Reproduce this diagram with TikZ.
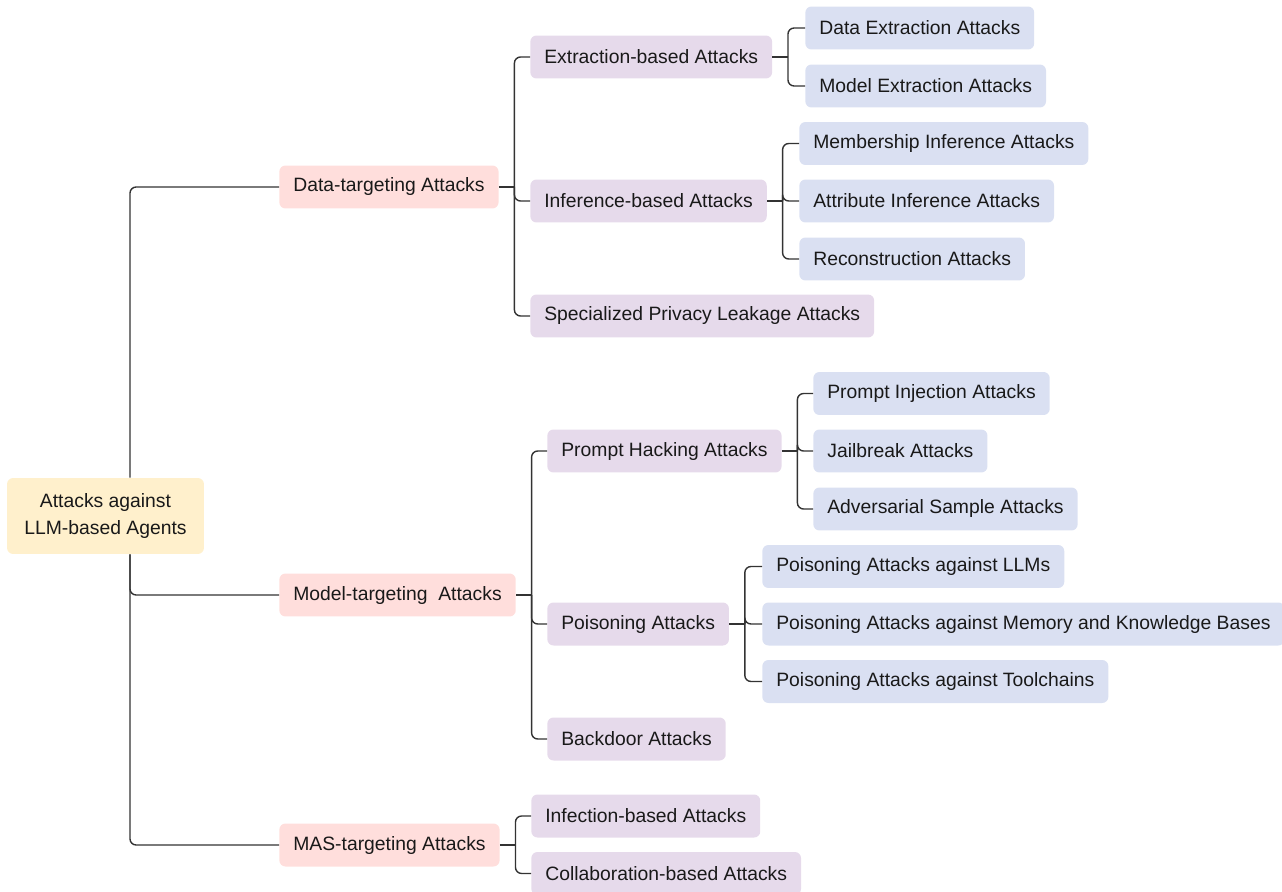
\documentclass[tikz,border=0pt]{standalone}
\usepackage{fontspec}
\setmainfont{Liberation Sans}
\usepackage{xcolor}
\usepackage{tikz}
\usetikzlibrary{positioning}

\definecolor{rootfill}{HTML}{FFF0CC}
\definecolor{catfill}{HTML}{FFDEDC}
\definecolor{subfill}{HTML}{E6DAEB}
\definecolor{leaffill}{HTML}{DAE0F2}
\definecolor{linegray}{HTML}{333333}

\begin{document}
\begin{tikzpicture}[
	x=0.02cm, y=-0.02cm,
	font=\fontsize{11}{13}\selectfont
]
\tikzset{
    mybox/.style = {rectangle, rounded corners=3.5pt, draw=none, anchor=west, inner xsep=0.28cm, inner ysep=0pt, minimum height=0.86cm, text=black!90},
    rootbox/.style = {mybox, anchor=center, fill=rootfill, align=center, minimum width=3.94cm, minimum height=1.52cm, font=\fontsize{11}{15.3}\selectfont},
    catbox/.style = {mybox, fill=catfill},
    subbox/.style = {mybox, fill=subfill},
    leafbox/.style = {mybox, fill=leaffill},
    conn/.style = {draw=linegray, line width=0.8pt, rounded corners=3.5pt}
}
\useasboundingbox (0,0) rectangle (1282,892);

% root
\node[rootbox] (root) at (105.5,516) {Attacks against\\LLM-based Agents};

% first level
\node[catbox] (data) at (279,187) {Data-targeting Attacks};
\node[catbox] (model) at (279,595) {Model-targeting\ \ Attacks};
\node[catbox] (mas) at (279,845) {MAS-targeting Attacks};

% second level
\node[subbox] (extr) at (530,57) {Extraction-based Attacks};
\node[subbox] (infer) at (530,201) {Inference-based Attacks};
\node[subbox] (spec) at (530,316) {Specialized Privacy Leakage Attacks};
\node[subbox] (hack) at (547,451) {Prompt Hacking Attacks};
\node[subbox] (poison) at (547,624) {Poisoning Attacks};
\node[subbox] (backdoor) at (547,739) {Backdoor Attacks};
\node[subbox] (infect) at (531,816) {Infection-based Attacks};
\node[subbox] (collab) at (531,873.5) {Collaboration-based Attacks};

% third level
\node[leafbox] (dataext) at (805,28) {Data Extraction Attacks};
\node[leafbox] (modelext) at (805,86) {Model Extraction Attacks};
\node[leafbox] (member) at (799,143.5) {Membership Inference Attacks};
\node[leafbox] (attrib) at (799,201) {Attribute Inference Attacks};
\node[leafbox] (recon) at (799,259) {Reconstruction Attacks};
\node[leafbox] (inject) at (813,393.5) {Prompt Injection Attacks};
\node[leafbox] (jail) at (813,451) {Jailbreak Attacks};
\node[leafbox] (adv) at (813,509) {Adversarial Sample Attacks};
\node[leafbox] (pllm) at (762,566.5) {Poisoning Attacks against LLMs};
\node[leafbox] (pmem) at (762,624) {Poisoning Attacks against Memory and Knowledge Bases};
\node[leafbox] (ptool) at (762,681.5) {Poisoning Attacks against Toolchains};

% trunk
\draw[conn] ([xshift=0.49cm]root.north) |- (data.west);
\draw[conn] ([xshift=0.49cm]root.south) |- (model.west);
\draw[conn] ([xshift=0.49cm]root.south) |- (mas.west);

% forks
\coordinate (dataf) at ([xshift=0.31cm]data.east);
\coordinate (modelf) at ([xshift=0.31cm]model.east);
\coordinate (masf) at ([xshift=0.31cm]mas.east);
\coordinate (extrf) at ([xshift=0.31cm]extr.east);
\coordinate (inferf) at ([xshift=0.31cm]infer.east);
\coordinate (hackf) at ([xshift=0.31cm]hack.east);
\coordinate (poisonf) at ([xshift=0.31cm]poison.east);

\draw[conn] (data.east) -- (dataf);
\draw[conn] (dataf) |- (extr.west);
\draw[conn] (dataf) |- (infer.west);
\draw[conn] (dataf) |- (spec.west);

\draw[conn] (model.east) -- (modelf);
\draw[conn] (modelf) |- (hack.west);
\draw[conn] (modelf) |- (poison.west);
\draw[conn] (modelf) |- (backdoor.west);

\draw[conn] (mas.east) -- (masf);
\draw[conn] (masf) |- (infect.west);
\draw[conn] (masf) |- (collab.west);

\draw[conn] (extr.east) -- (extrf);
\draw[conn] (extrf) |- (dataext.west);
\draw[conn] (extrf) |- (modelext.west);

\draw[conn] (infer.east) -- (inferf);
\draw[conn] (inferf) |- (member.west);
\draw[conn] (inferf) |- (attrib.west);
\draw[conn] (inferf) |- (recon.west);

\draw[conn] (hack.east) -- (hackf);
\draw[conn] (hackf) |- (inject.west);
\draw[conn] (hackf) |- (jail.west);
\draw[conn] (hackf) |- (adv.west);

\draw[conn] (poison.east) -- (poisonf);
\draw[conn] (poisonf) |- (pllm.west);
\draw[conn] (poisonf) |- (pmem.west);
\draw[conn] (poisonf) |- (ptool.west);
\end{tikzpicture}
\end{document}
